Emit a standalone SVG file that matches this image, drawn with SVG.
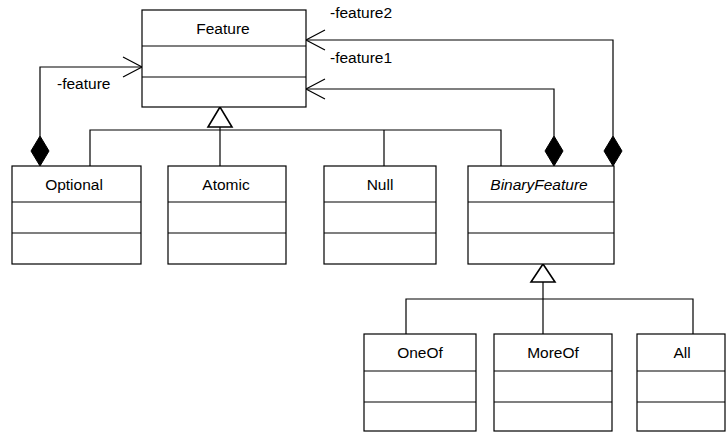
<svg xmlns="http://www.w3.org/2000/svg" width="726" height="432" viewBox="0 0 726 432">
<style>
.box{fill:#fff;stroke:#000;stroke-width:1.2}
.ln{fill:none;stroke:#000;stroke-width:1.2}
.dia{fill:#000;stroke:#000;stroke-width:1}
.tri{fill:#fff;stroke:#000;stroke-width:1.6}
text{font-family:"Liberation Sans",Arial,sans-serif;font-size:15.5px;fill:#000}
.c{text-anchor:middle}
.i{font-style:italic}
</style>
<rect width="726" height="432" fill="#fff"/>
<g id="connectors">
  <polyline class="ln" points="40,136 40,67 142,67"/>
  <polyline class="ln" points="123,57 142,67 123,77"/>
  <polygon class="dia" points="40,166 49,151 40,136 31,151"/>
  <text x="57" y="89">-feature</text>
  <polyline class="ln" points="554,136 554,89 306,89"/>
  <polyline class="ln" points="325,79 306,89 325,99"/>
  <polygon class="dia" points="554,166 563,151 554,136 545,151"/>
  <text x="330" y="63">-feature1</text>
  <polyline class="ln" points="613,136 613,40 306,40"/>
  <polyline class="ln" points="325,30 306,40 325,50"/>
  <polygon class="dia" points="613,166 622,151 613,136 604,151"/>
  <text x="330" y="18">-feature2</text>
  <line class="ln" x1="220" y1="127" x2="220" y2="166"/>
  <polyline class="ln" points="90,166 90,130 501,130 501,166"/>
  <line class="ln" x1="384" y1="130" x2="384" y2="166"/>
  <polygon class="tri" points="220,107 208,127 232,127"/>
  <line class="ln" x1="543" y1="282" x2="543" y2="334"/>
  <polyline class="ln" points="406,334 406,299 693,299 693,334"/>
  <polygon class="tri" points="543,264 531,282 555,282"/>
</g>
<g id="Feature">
  <rect class="box" x="142" y="10" width="164" height="97"/>
  <line class="ln" x1="142" y1="46" x2="306" y2="46"/>
  <line class="ln" x1="142" y1="77" x2="306" y2="77"/>
  <text class="c" x="223" y="34">Feature</text>
</g>
<g id="Optional">
  <rect class="box" x="12" y="166" width="129" height="98"/>
  <line class="ln" x1="12" y1="202" x2="141" y2="202"/>
  <line class="ln" x1="12" y1="233" x2="141" y2="233"/>
  <text class="c" x="74" y="190">Optional</text>
</g>
<g id="Atomic">
  <rect class="box" x="168" y="166" width="118" height="98"/>
  <line class="ln" x1="168" y1="202" x2="286" y2="202"/>
  <line class="ln" x1="168" y1="233" x2="286" y2="233"/>
  <text class="c" x="226" y="190">Atomic</text>
</g>
<g id="Null">
  <rect class="box" x="324" y="166" width="112" height="98"/>
  <line class="ln" x1="324" y1="202" x2="436" y2="202"/>
  <line class="ln" x1="324" y1="233" x2="436" y2="233"/>
  <text class="c" x="380" y="190">Null</text>
</g>
<g id="BinaryFeature">
  <rect class="box" x="468" y="166" width="146" height="98"/>
  <line class="ln" x1="468" y1="202" x2="614" y2="202"/>
  <line class="ln" x1="468" y1="233" x2="614" y2="233"/>
  <text class="c i" x="539" y="190">BinaryFeature</text>
</g>
<g id="OneOf">
  <rect class="box" x="364" y="334" width="112" height="97"/>
  <line class="ln" x1="364" y1="371" x2="476" y2="371"/>
  <line class="ln" x1="364" y1="402" x2="476" y2="402"/>
  <text class="c" x="420" y="358">OneOf</text>
</g>
<g id="MoreOf">
  <rect class="box" x="494" y="334" width="118" height="97"/>
  <line class="ln" x1="494" y1="371" x2="612" y2="371"/>
  <line class="ln" x1="494" y1="402" x2="612" y2="402"/>
  <text class="c" x="553" y="358">MoreOf</text>
</g>
<g id="All">
  <rect class="box" x="637" y="334" width="88" height="97"/>
  <line class="ln" x1="637" y1="371" x2="725" y2="371"/>
  <line class="ln" x1="637" y1="402" x2="725" y2="402"/>
  <text class="c" x="682" y="358">All</text>
</g>
</svg>
